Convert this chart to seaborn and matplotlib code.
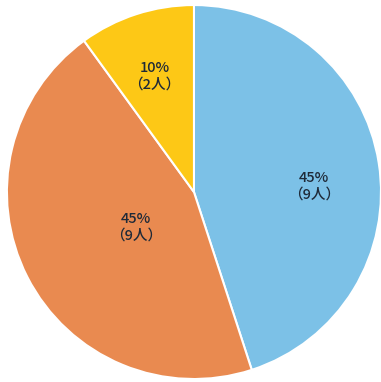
import matplotlib
matplotlib.use("Agg")
import matplotlib.pyplot as plt
import seaborn as sns

# Data
categories = ["A", "B", "C"]
shares = [45, 45, 10]
people = [9, 9, 2]

# Colours
colors = ["#7cc1e7", "#e98a50", "#fdc816"]

# label positions (data coords, pie radius 1)
label_x = [0.64, -0.31, -0.21]
label_y = [0.03, -0.19, 0.62]

sns.set_theme(style="white")
plt.rcParams["font.family"] = ["Noto Sans CJK JP", "DejaVu Sans"]

fig = plt.figure(figsize=(3.81, 3.82), dpi=100)
ax = fig.add_axes([0, 0, 1, 1])

ax.pie(shares, colors=colors, startangle=90, counterclock=False,
       radius=1.0, wedgeprops=dict(edgecolor="white", linewidth=1.5))

for i in range(len(categories)):
    ax.text(label_x[i], label_y[i], f"{shares[i]}%\n（{people[i]}人）",
            ha="center", va="center", fontsize=10.5, color="#1f2a38",
            linespacing=1.25, fontweight="medium")

ax.set_xlim(-1.037, 1.0)
ax.set_ylim(-1.016, 1.027)
ax.set_aspect("auto")
ax.axis("off")

fig.savefig("out.png", dpi=100, facecolor="white")
